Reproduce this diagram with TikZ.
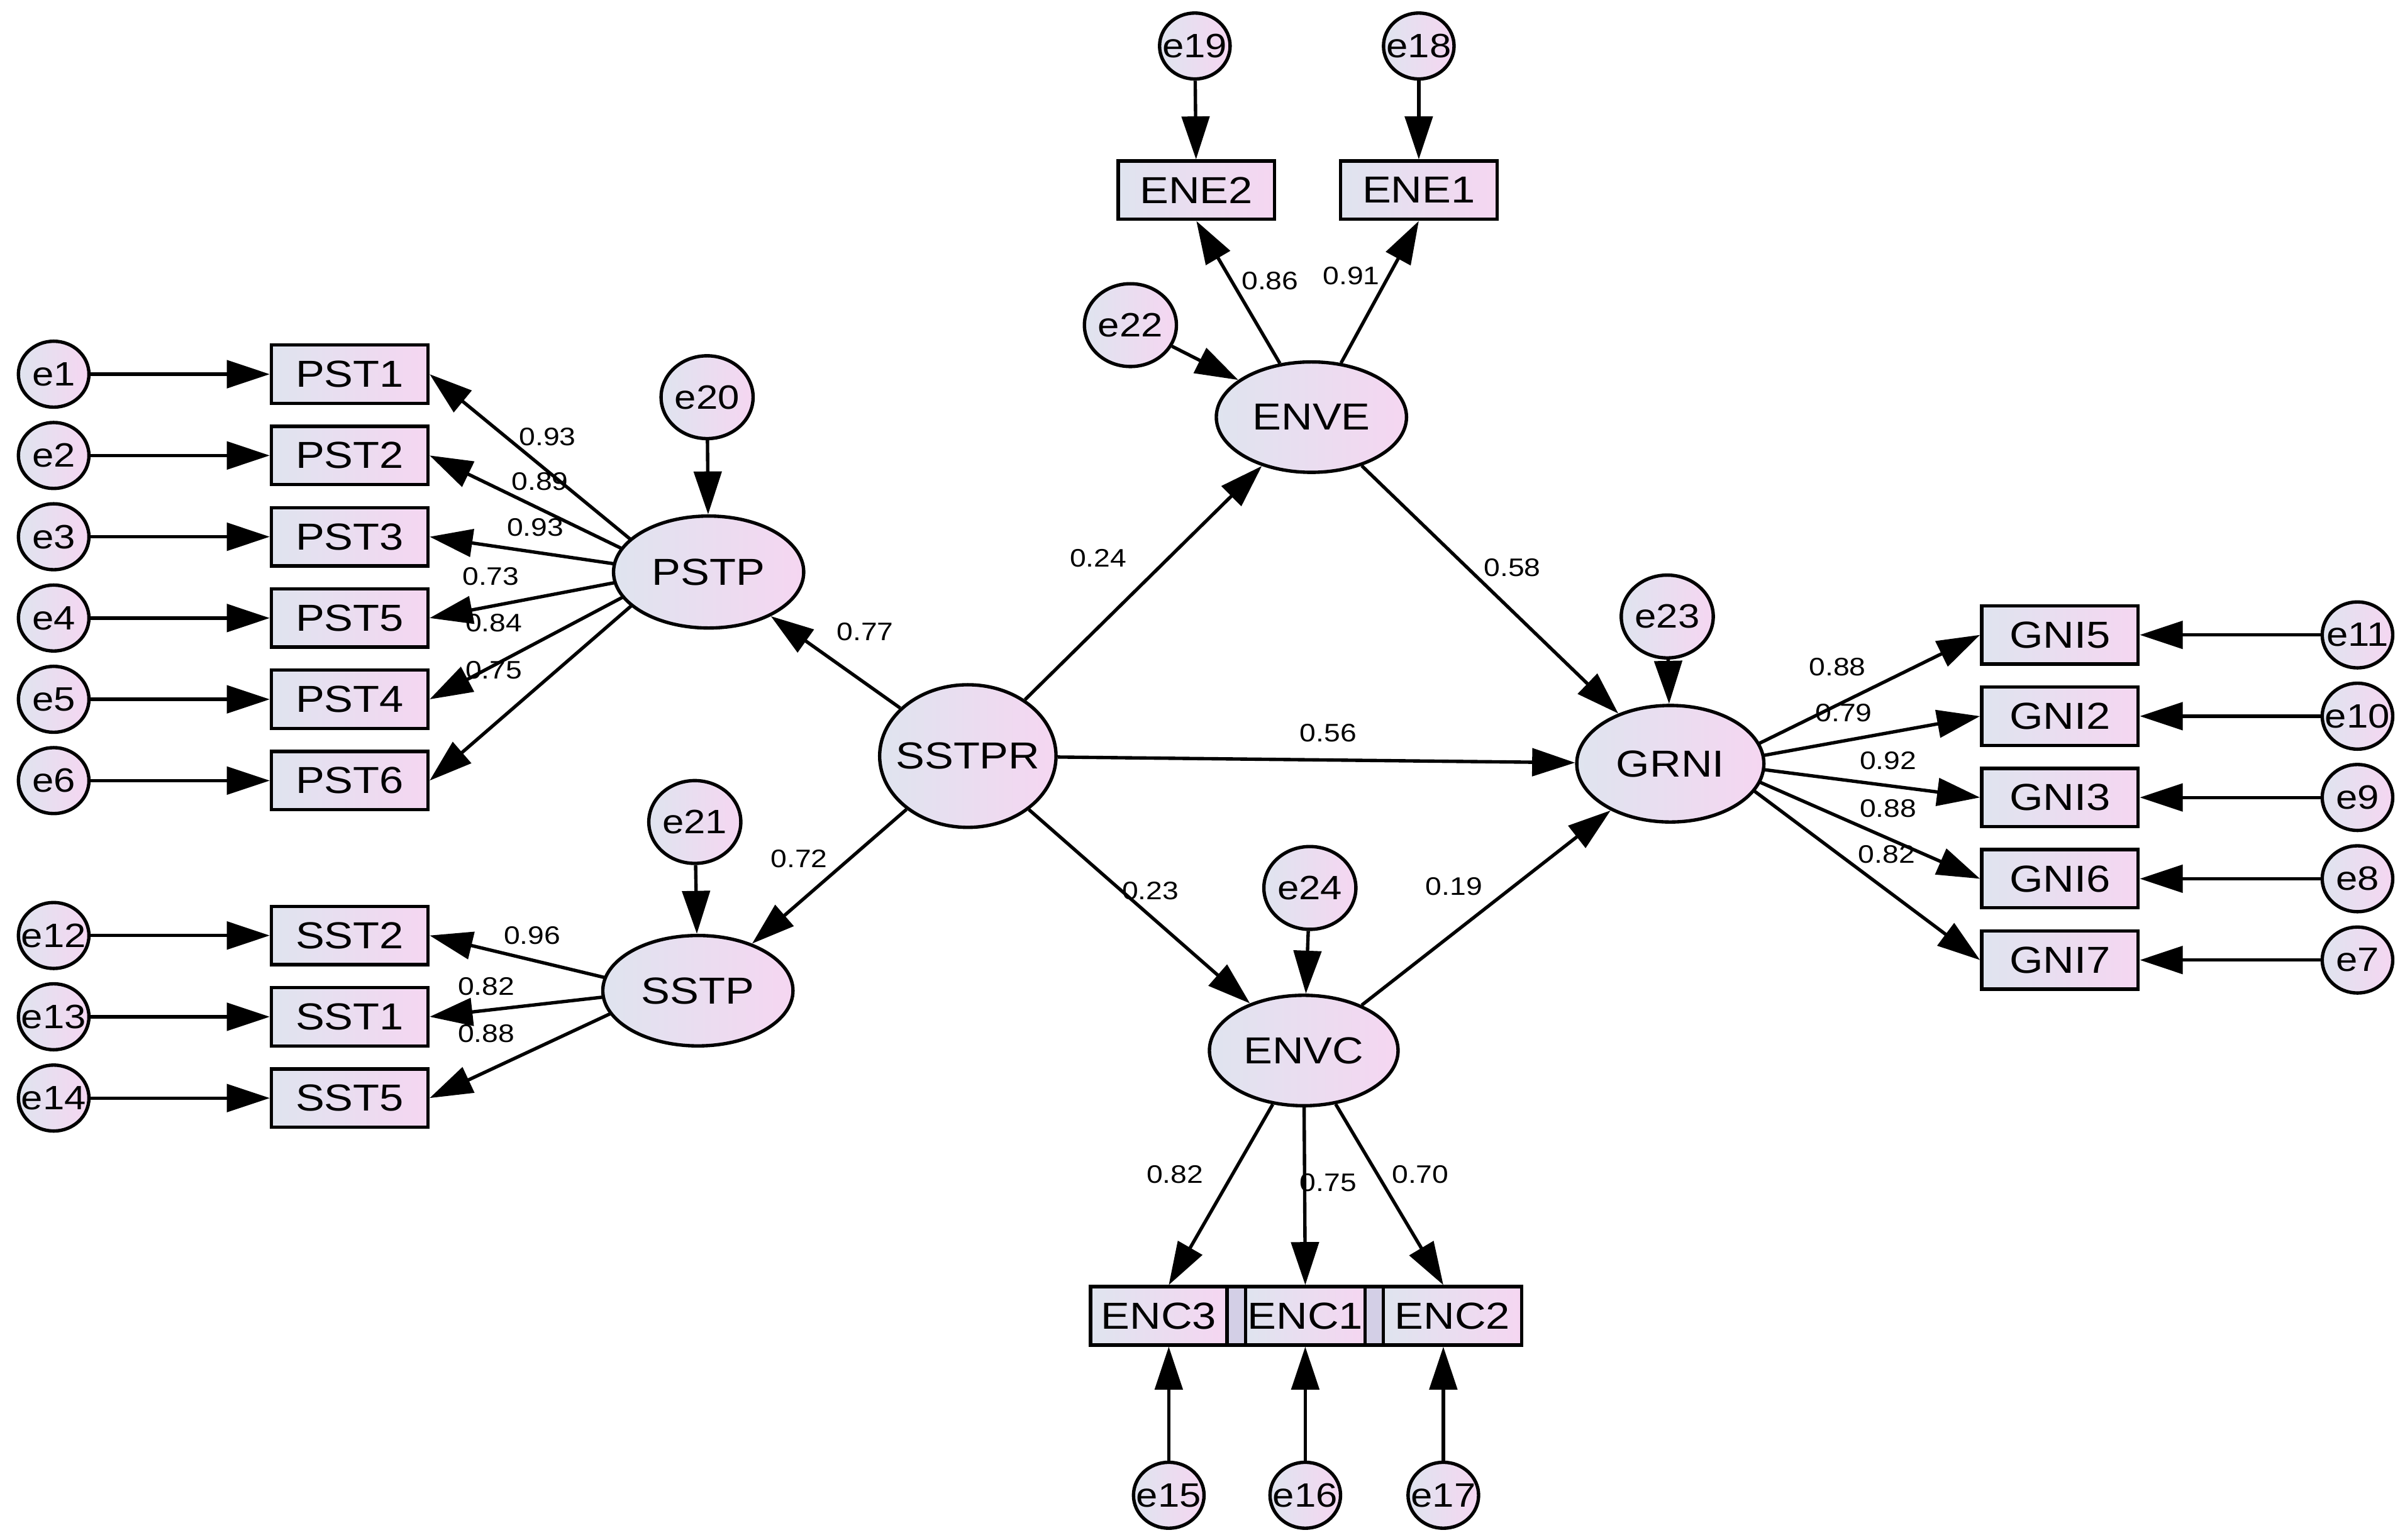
\documentclass[tikz,border=0pt]{standalone}
\usepackage{fontspec}
\setmainfont[FakeStretch=1.15]{Liberation Sans}
\usetikzlibrary{shapes.geometric,arrows.meta,calc}
\pgfdeclarelayer{bg}
\pgfsetlayers{bg,main}
\definecolor{cL}{HTML}{DFE4EF}
\definecolor{cR}{HTML}{F5D6F1}
\definecolor{strip}{HTML}{D3CFE6}
\newcommand\mbx[1]{\makebox[0pt]{#1}}
\tikzset{
  base/.style={draw=black, line width=2.2pt, left color=cL, right color=cR, inner sep=0pt},
  obs/.style={base, rectangle, minimum width=102pt, minimum height=38pt, font=\fontsize{24.5}{28}\selectfont},
  lat/.style={base, ellipse, minimum width=124pt, minimum height=73pt, font=\fontsize{24.5}{28}\selectfont},
  errs/.style={base, ellipse, minimum width=46pt, minimum height=43pt, font=\fontsize{22}{24}\selectfont},
  errm/.style={base, ellipse, minimum width=60pt, minimum height=54pt, font=\fontsize{22}{24}\selectfont},
  arr/.style={line width=2.2pt, -{Triangle[length=28pt,width=18pt]}},
  lab/.style={inner sep=0pt, font=\fontsize{16.5}{18}\selectfont},
}
\begin{document}
\begin{tikzpicture}[x=1pt,y=-1pt]
\useasboundingbox (0,0) rectangle (1568,1004);
\begin{pgfonlayer}{bg}
\fill[white] (0,0) rectangle (1568,1004);
\end{pgfonlayer}

% ---------- latent variables ----------
\node[lat] (PSTP) at (462,373) {\mbx{PSTP}};
\node[lat, minimum height=72pt] (SSTP) at (455,646) {\mbx{SSTP}};
\node[lat, minimum width=115pt, minimum height=93pt] (SSTPR) at (631,493) {\mbx{SSTPR}};
\node[lat, minimum height=72pt] (ENVE) at (855,272) {\mbx{ENVE}};
\node[lat, minimum width=123pt, minimum height=72pt] (ENVC) at (850,685) {\mbx{ENVC}};
\node[lat, minimum width=122pt, minimum height=76pt] (GRNI) at (1089,498) {\mbx{GRNI}};

% ---------- residuals of latents ----------
\node[errm] (e20) at (461,259) {\mbx{e20}};
\node[errm] (e21) at (453,536) {\mbx{e21}};
\node[errm] (e22) at (737,212) {\mbx{e22}};
\node[errm] (e23) at (1087,402) {\mbx{e23}};
\node[errm] (e24) at (854,579) {\mbx{e24}};

% ---------- PST indicators ----------
\foreach \n/\p/\y in {1/1/244, 2/2/297, 3/3/350, 4/5/403, 5/4/456, 6/6/509}{
  \node[errs] (e\n) at (35,\y) {\mbx{e\n}};
  \node[obs] (PST\p) at (228,\y) {PST\p};
}
% ---------- SST indicators ----------
\foreach \n/\p/\y in {12/2/610, 13/1/663, 14/5/716}{
  \node[errs] (e\n) at (35,\y) {\mbx{e\n}};
  \node[obs] (SST\p) at (228,\y) {SST\p};
}
% ---------- GNI indicators ----------
\foreach \n/\p/\y in {11/5/414, 10/2/467, 9/3/520, 8/6/573, 7/7/626}{
  \node[errs] (e\n) at (1537,\y) {\mbx{e\n}};
  \node[obs] (GNI\p) at (1343,\y) {GNI\p};
}
% ---------- ENE indicators ----------
\node[obs] (ENE2) at (780,124) {ENE2};
\node[obs] (ENE1) at (925,124) {ENE1};
\node[errs] (e19) at (779,30) {\mbx{e19}};
\node[errs] (e18) at (925,30) {\mbx{e18}};

% ---------- ENC indicators ----------
\draw[line width=2.2pt, fill=strip] (799,839) rectangle (813,877);
\draw[line width=2.2pt, fill=strip] (889,839) rectangle (903,877);
\node[obs, minimum width=89pt] (ENC3) at (755.5,858) {ENC3};
\node[obs, minimum width=78pt] (ENC1) at (851,858) {ENC1};
\node[obs, minimum width=90pt] (ENC2) at (947,858) {ENC2};
\node[errs] (e15) at (762,975) {\mbx{e15}};
\node[errs] (e16) at (851,975) {\mbx{e16}};
\node[errs] (e17) at (941,975) {\mbx{e17}};

% ---------- connectors ----------
\begin{pgfonlayer}{bg}
\foreach \n/\p in {1/1,2/2,3/3,4/5,5/4,6/6}{
  \draw[arr] (e\n) -- (PST\p);
  \draw[arr] ($(PSTP.center)+(-25,0)$) -- (PST\p.east);
}
\foreach \n/\p in {12/2,13/1,14/5}{
  \draw[arr] (e\n) -- (SST\p);
  \draw[arr] ($(SSTP.center)+(-25,0)$) -- (SST\p.east);
}
\foreach \n/\p in {11/5,10/2,9/3,8/6,7/7}{
  \draw[arr] (e\n) -- (GNI\p);
  \draw[arr] ($(GRNI.center)+(31,0)$) -- (GNI\p.west);
}
\end{pgfonlayer}
\draw[arr] (e20) -- (PSTP);
\draw[arr] (e21) -- (SSTP);
\draw[arr] (e22) -- (ENVE);
\draw[arr] (e23) -- (GRNI);
\draw[arr] (e24) -- (ENVC);
\draw[arr] (e19) -- (ENE2);
\draw[arr] (e18) -- (ENE1);
\draw[arr] (ENVE) -- (ENE2.south);
\draw[arr] (ENVE) -- (ENE1.south);
\draw[arr] (SSTPR) -- (PSTP);
\draw[arr] (SSTPR) -- (SSTP);
\draw[arr] (SSTPR) -- (ENVE);
\draw[arr] (SSTPR) -- (GRNI);
\draw[arr] (SSTPR) -- (ENVC);
\draw[arr] (ENVE) -- (GRNI);
\draw[arr] (ENVC) -- (GRNI);
\draw[arr] (ENVC) -- (ENC3.north -| e15);
\draw[arr] (ENVC) -- (ENC1.north -| e16);
\draw[arr] (ENVC) -- (ENC2.north -| e17);
\draw[arr] (e15) -- (ENC3.south -| e15);
\draw[arr] (e16) -- (ENC1.south -| e16);
\draw[arr] (e17) -- (ENC2.south -| e17);

% ---------- coefficient labels ----------
\node[lab] (l1) at (357,285) {0.93};
\node[lab] (l2) at (352,314) {0.89};
\node[lab] (l3) at (349,344) {0.93};
\node[lab] (l4) at (320,376) {0.73};
\node[lab] (l5) at (322,406) {0.84};
\node[lab] (l6) at (322,437) {0.75};
\node[lab] (l7) at (564,412) {0.77};
\node[lab] (l8) at (521,560) {0.72};
\node[lab] (l9) at (347,610) {0.96};
\node[lab] (l10) at (317,643) {0.82};
\node[lab] (l11) at (317,674) {0.88};
\node[lab] (l12) at (828,183) {0.86};
\node[lab] (l13) at (881,180) {0.91};
\node[lab] (l14) at (716,364) {0.24};
\node[lab] (l15) at (986,370) {0.58};
\node[lab] (l16) at (866,478) {0.56};
\node[lab] (l17) at (750,581) {0.23};
\node[lab] (l18) at (948,578) {0.19};
\node[lab] (l19) at (766,766) {0.82};
\node[lab] (l20) at (866,771) {0.75};
\node[lab] (l21) at (926,766) {0.70};
\node[lab] (l22) at (1198,435) {0.88};
\node[lab] (l23) at (1202,465) {0.79};
\node[lab] (l24) at (1231,496) {0.92};
\node[lab] (l25) at (1231,527) {0.88};
\node[lab] (l26) at (1230,557) {0.82};
\end{tikzpicture}
\end{document}
